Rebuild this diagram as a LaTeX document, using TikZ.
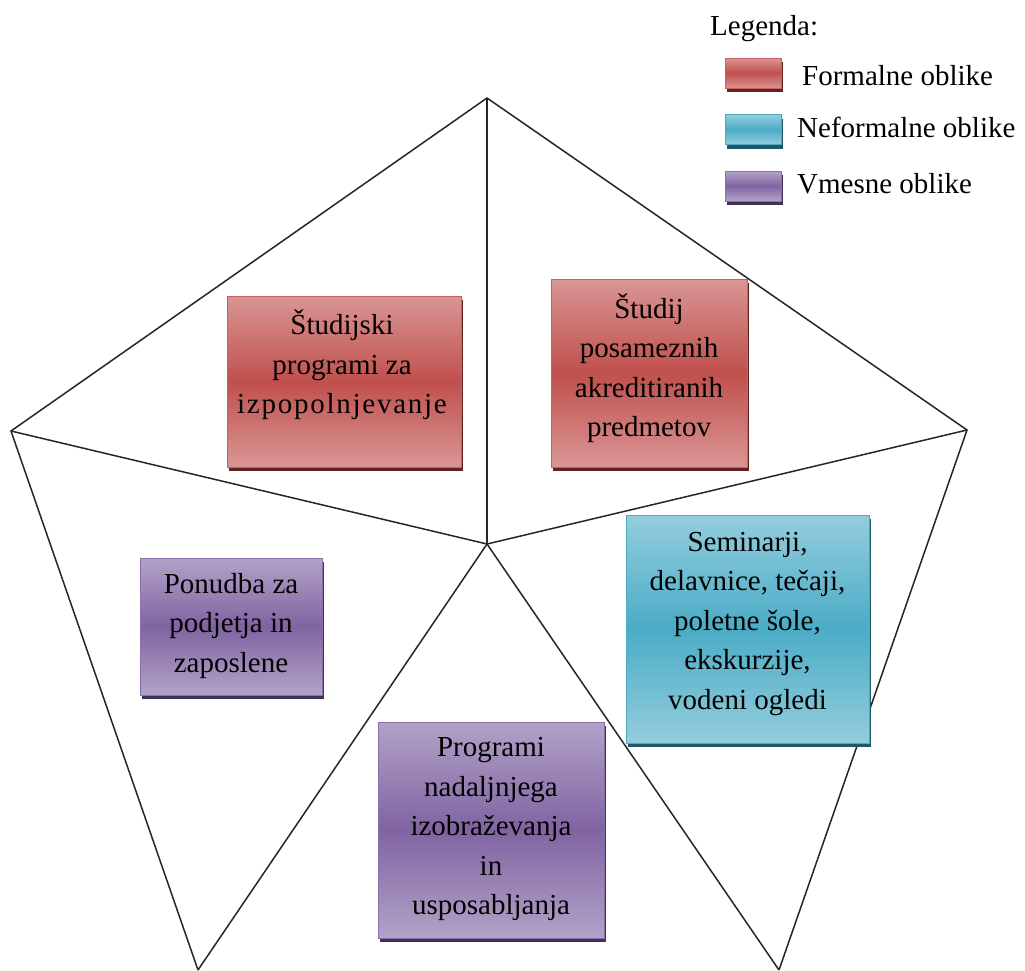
\documentclass[tikz,border=0pt]{standalone}
\usepackage{fontspec}
\setmainfont{Liberation Serif}
\usetikzlibrary{shadows}
\definecolor{redL}{HTML}{D99694}
\definecolor{redD}{HTML}{C0504D}
\definecolor{redB}{HTML}{CB605D}
\definecolor{redS}{HTML}{622423}
\definecolor{bluL}{HTML}{93CDDD}
\definecolor{bluD}{HTML}{4BACC6}
\definecolor{bluB}{HTML}{4BACC6}
\definecolor{bluS}{HTML}{205867}
\definecolor{purL}{HTML}{B2A2C7}
\definecolor{purD}{HTML}{8064A2}
\definecolor{purB}{HTML}{8A70AC}
\definecolor{purS}{HTML}{3F3151}
\tikzset{
  fbox/.style={rectangle, draw=#1B, line width=0.8pt, top color=#1L, bottom color=#1L, middle color=#1D, inner sep=0pt,
    drop shadow={shadow xshift=2pt, shadow yshift=-4pt, fill=#1S, opacity=1}},
  txt/.style={align=center, font=\fontsize{29}{39.5}\selectfont, inner sep=0pt, text=black},
  ltxt/.style={font=\fontsize{29}{34}\selectfont, inner sep=0pt, anchor=base west, text=black},
  edge/.style={draw=black!85, line width=1.5pt}
}
\begin{document}
\begin{tikzpicture}[x=1pt,y=-1pt]
\useasboundingbox[fill=white] (0,0) rectangle (1025,970);
% pentagon
\coordinate (T) at (487,98);
\coordinate (L) at (11,431);
\coordinate (R) at (967,430);
\coordinate (BL) at (198,970);
\coordinate (BR) at (779,970);
\coordinate (C) at (487,544);
\draw[edge] (BL) -- (L) -- (T) -- (R) -- (BR);
\draw[edge] (C) -- (T);
\draw[edge] (C) -- (L);
\draw[edge] (C) -- (R);
\draw[edge] (C) -- (BL);
\draw[edge] (C) -- (BR);
% boxes
\node[fbox=red, minimum width=234pt, minimum height=171pt] (b1) at (344,381.5) {};
\node[txt] (t1) at (342,365) {Študijski\\programi za\\{\addfontfeature{LetterSpace=6}izpopolnjevanje}};
\node[fbox=red, minimum width=196pt, minimum height=188pt] (b2) at (649,373) {};
\node[txt] (t2) at (649,368) {Študij\\posameznih\\akreditiranih\\predmetov};
\node[fbox=blu, minimum width=243pt, minimum height=228pt] (b3) at (747.5,629) {};
\node[txt] (t3) at (747.5,624) {Seminarji,\\delavnice, tečaji,\\poletne šole,\\ekskurzije,\\vodeni ogledi};
\node[fbox=pur, minimum width=182pt, minimum height=137pt] (b4) at (231,626.5) {};
\node[txt] (t4) at (231,626) {Ponudba za\\podjetja in\\zaposlene};
\node[fbox=pur, minimum width=226pt, minimum height=216pt] (b5) at (491,830) {};
\node[txt] (t5) at (491,829) {Programi\\nadaljnjega\\izobraževanja\\in\\usposabljanja};
% legend
\node[ltxt] (lg) at (710,35) {Legenda:};
\node[fbox=red, minimum width=56pt, minimum height=30pt] (s1) at (753,73) {};
\node[ltxt] (l1) at (802,85) {Formalne oblike};
\node[fbox=blu, minimum width=56pt, minimum height=30pt] (s2) at (753,129.5) {};
\node[ltxt] (l2) at (797,137) {Neformalne oblike};
\node[fbox=pur, minimum width=56pt, minimum height=30pt] (s3) at (753,186) {};
\node[ltxt] (l3) at (797,193) {Vmesne oblike};
\end{tikzpicture}
\end{document}
